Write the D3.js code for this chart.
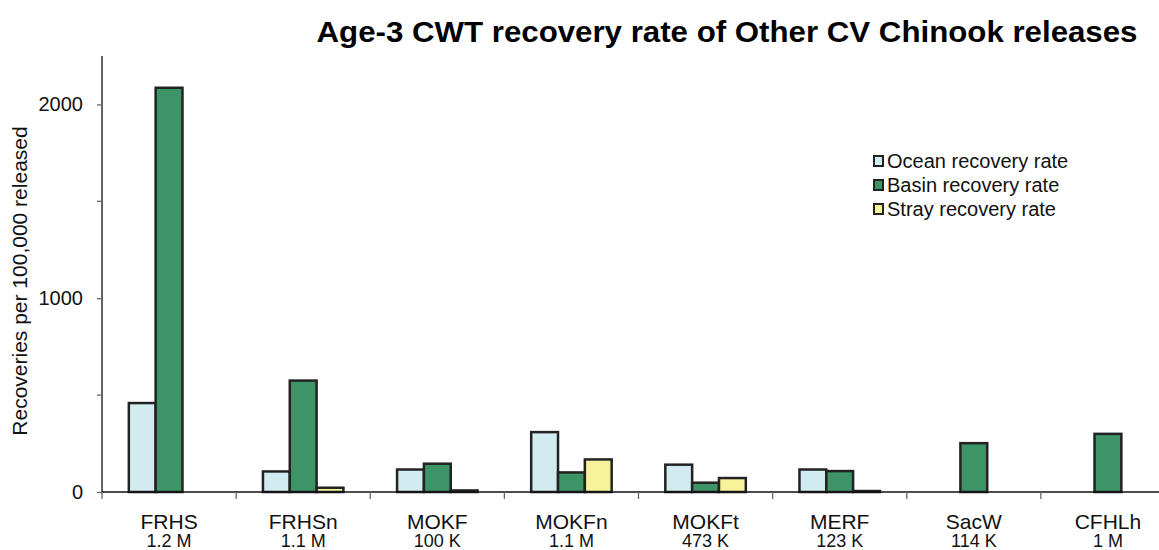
<!DOCTYPE html>
<html>
<head>
<meta charset="utf-8">
<script src="https://cdn.jsdelivr.net/npm/d3@7"></script>
<style>
  body { margin: 0; background: #fff; }
  svg { display: block; font-family: "Liberation Sans", Arial, sans-serif; }
</style>
</head>
<body>
<div id="chart"></div>
<script>
var svgWidth = 1159;
var svgHeight = 550;

// Data
var hatcheries = ['FRHS', 'FRHSn', 'MOKF', 'MOKFn', 'MOKFt', 'MERF', 'SacW', 'CFHLh'];
var releaseSizes = ['1.2 M', '1.1 M', '100 K', '1.1 M', '473 K', '123 K', '114 K', '1 M'];
var seriesNames = ['Ocean recovery rate', 'Basin recovery rate', 'Stray recovery rate'];
var oceanRate = [459, 106, 116, 309, 141, 116, null, null];
var basinRate = [2086, 575, 146, 101, 48, 108, 252, 300];
var strayRate = [null, 22, 8, 168, 72, 5, null, null];
var yMajorTicks = [0, 1000, 2000];
var yMinorTicks = [500, 1500];

var colors = ['#d1ecf1', '#3d9467', '#f6f39b'];

var margin = { top: 56, left: 102, bottom: 58 };
var plotRight = 1175;
var height = svgHeight - margin.top - margin.bottom;

var rows = hatcheries.map(function(h, i) {
    return { name: h, size: releaseSizes[i], values: [oceanRate[i], basinRate[i], strayRate[i]] };
});

var svg = d3.select('#chart')
    .append('svg')
    .attr('width', svgWidth)
    .attr('height', svgHeight);

var chartGroup = svg.append('g')
    .attr('transform', `translate(${margin.left},${margin.top})`);

var x0 = d3.scaleBand()
    .domain(hatcheries)
    .range([0, plotRight - margin.left]);

var x1 = d3.scaleBand()
    .domain(seriesNames)
    .range([x0.bandwidth() * 0.2, x0.bandwidth() * 0.8]);

var y = d3.scaleLinear()
    .domain([0, 2250])
    .range([height, 0]);

// bars
var groups = chartGroup.selectAll('.grp')
    .data(rows)
    .enter()
    .append('g')
    .attr('transform', d => `translate(${x0(d.name)},0)`);

groups.selectAll('rect')
    .data(d => d.values.map((v, k) => ({ key: seriesNames[k], k: k, v: v })).filter(e => e.v != null))
    .enter()
    .append('rect')
    .attr('x', d => x1(d.key))
    .attr('width', x1.bandwidth())
    .attr('y', d => y(d.v))
    .attr('height', d => height - y(d.v))
    .attr('fill', d => colors[d.k])
    .attr('stroke', '#222')
    .attr('stroke-width', 2.5);

// y axis
var leftAxis = d3.axisLeft(y)
    .tickValues(yMajorTicks)
    .tickFormat(d3.format('d'))
    .tickSize(5)
    .tickPadding(14);
var yAxisG = chartGroup.append('g').call(leftAxis);
yAxisG.attr('font-size', null).attr('font-family', null);
yAxisG.select('.domain').attr('d', `M0,0V${height}`).attr('stroke', '#111').attr('stroke-width', 1.3);
yAxisG.selectAll('.tick line').attr('stroke', '#666').attr('stroke-width', 1.3);
yAxisG.selectAll('.tick text')
    .style('font-size', '20px')
    .attr('fill', '#111');

chartGroup.append('g')
    .selectAll('line')
    .data(yMinorTicks)
    .enter()
    .append('line')
    .attr('x1', -5)
    .attr('x2', 0)
    .attr('y1', d => y(d))
    .attr('y2', d => y(d))
    .attr('stroke', '#666')
    .attr('stroke-width', 1.3);

// x axis
var xAxisG = chartGroup.append('g')
    .attr('transform', `translate(0,${height})`);

xAxisG.append('line')
    .attr('x1', 0)
    .attr('x2', plotRight - margin.left)
    .attr('stroke', '#111')
    .attr('stroke-width', 1.3);

xAxisG.selectAll('.sep')
    .data(hatcheries)
    .enter()
    .append('line')
    .attr('x1', d => x0(d))
    .attr('x2', d => x0(d))
    .attr('y1', 0)
    .attr('y2', 7)
    .attr('stroke', '#666')
    .attr('stroke-width', 1.3);

xAxisG.selectAll('.cat')
    .data(rows)
    .enter()
    .append('text')
    .attr('x', d => x0(d.name) + x0.bandwidth() / 2)
    .attr('y', 37)
    .attr('text-anchor', 'middle')
    .style('font-size', '21px')
    .attr('fill', '#111')
    .text(d => d.name);

xAxisG.selectAll('.size')
    .data(rows)
    .enter()
    .append('text')
    .attr('x', d => x0(d.name) + x0.bandwidth() / 2)
    .attr('y', 55)
    .attr('text-anchor', 'middle')
    .style('font-size', '18px')
    .attr('fill', '#111')
    .text(d => d.size);

// y axis label
svg.append('text')
    .attr('transform', 'translate(27,281) rotate(-90)')
    .attr('text-anchor', 'middle')
    .style('font-size', '21px')
    .attr('fill', '#111')
    .text('Recoveries per 100,000 released');

// title
svg.append('text')
    .attr('x', 727)
    .attr('y', 42)
    .attr('text-anchor', 'middle')
    .style('font-size', '29px')
    .style('font-weight', 'bold')
    .attr('textLength', 821)
    .attr('lengthAdjust', 'spacingAndGlyphs')
    .attr('fill', '#000')
    .text('Age-3 CWT recovery rate of Other CV Chinook releases');

// legend
var legend = svg.append('g')
    .attr('transform', 'translate(874,156)');

var items = legend.selectAll('g')
    .data(seriesNames)
    .enter()
    .append('g')
    .attr('transform', (d, i) => `translate(0,${i * 24})`);

items.append('rect')
    .attr('width', 9)
    .attr('height', 10)
    .attr('fill', (d, i) => colors[i])
    .attr('stroke', '#222')
    .attr('stroke-width', 2);

items.append('text')
    .attr('x', 13)
    .attr('y', 12)
    .style('font-size', '20px')
    .attr('fill', '#111')
    .text(d => d);
</script>
</body>
</html>
